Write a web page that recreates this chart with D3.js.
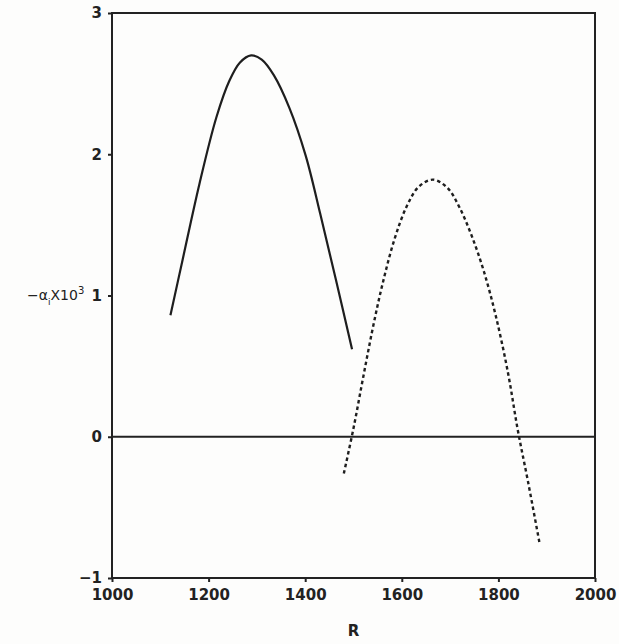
<!DOCTYPE html>
<html>
<head>
<meta charset="utf-8">
<script src="https://cdn.jsdelivr.net/npm/d3@7"></script>
<style>
  body { margin: 0; background: #fdfdfc; }
  text { font-family: "DejaVu Sans", sans-serif; fill: #222; }
</style>
</head>
<body>
<div id="chart"></div>
<script>
// values
var solidR = [1121, 1146, 1181, 1216, 1243, 1265, 1288, 1310, 1335, 1367, 1401, 1431, 1463, 1497];
var solidA = [0.86, 1.25, 1.79, 2.26, 2.52, 2.65, 2.70, 2.67, 2.56, 2.33, 1.99, 1.58, 1.12, 0.62];

var dashR = [1480, 1500, 1520, 1540, 1560, 1585, 1610, 1635, 1665, 1695, 1720, 1745, 1770, 1795, 1820, 1840, 1862, 1885];
var dashA = [-0.26, 0.06, 0.42, 0.77, 1.08, 1.40, 1.63, 1.77, 1.82, 1.76, 1.62, 1.42, 1.17, 0.85, 0.45, 0.05, -0.33, -0.75];

var xTicks = [1000, 1200, 1400, 1600, 1800, 2000];
var yTicks = [-1, 0, 1, 2, 3];

var margin = { top: 13, right: 24, bottom: 66, left: 112 },
    width = 619 - margin.left - margin.right,
    height = 644 - margin.top - margin.bottom;

var svg = d3.select("#chart")
    .append("svg")
    .attr("width", 619)
    .attr("height", 644)
    .append("g")
    .attr("transform", "translate(" + margin.left + "," + margin.top + ")");

var x = d3.scaleLinear().domain([1000, 2000]).range([0, width]);
var y = d3.scaleLinear().domain([-1, 3]).range([height, 0]);

// frame
svg.append("rect")
    .attr("width", width)
    .attr("height", height)
    .attr("fill", "none")
    .attr("stroke", "#222")
    .attr("stroke-width", 2);

// axes
var xAxis = svg.append("g")
    .attr("transform", "translate(0," + height + ")")
    .call(d3.axisBottom(x).tickValues(xTicks).tickSize(4).tickPadding(7).tickFormat(d3.format("d")));
var yAxis = svg.append("g")
    .call(d3.axisLeft(y).tickValues(yTicks).tickSize(4).tickPadding(6).tickFormat(function (d) { return d < 0 ? "−" + (-d) : d; }));

[xAxis, yAxis].forEach(function (a) {
    a.select(".domain").remove();
    a.selectAll("line").attr("stroke", "#222").attr("stroke-width", 2);
    a.selectAll("text").style("font-size", "15px").style("font-weight", "bold").attr("fill", "#222");
});

// zero line
svg.append("line")
    .attr("x1", 0).attr("x2", width)
    .attr("y1", y(0)).attr("y2", y(0))
    .attr("stroke", "#222")
    .attr("stroke-width", 2);

var line = d3.line()
    .x(function (d) { return x(d[0]); })
    .y(function (d) { return y(d[1]); })
    .curve(d3.curveCatmullRom);

svg.append("path")
    .datum(d3.zip(solidR, solidA))
    .attr("fill", "none")
    .attr("stroke", "#1e1e1e")
    .attr("stroke-width", 2.2)
    .attr("d", line);

svg.append("path")
    .datum(d3.zip(dashR, dashA))
    .attr("fill", "none")
    .attr("stroke", "#1e1e1e")
    .attr("stroke-width", 2.4)
    .attr("stroke-dasharray", "3.5,3")
    .attr("d", line);

// axis titles
var yl = svg.append("text")
    .attr("x", -85)
    .attr("y", y(1) + 4)
    .style("font-size", "14px");
yl.append("tspan").text("−α");
yl.append("tspan").attr("dy", 5).style("font-size", "9px").text("i");
yl.append("tspan").attr("dy", -5).text("X10");
yl.append("tspan").attr("dy", -6).style("font-size", "10px").text("3");

svg.append("text")
    .attr("x", x(1500))
    .attr("y", height + 58)
    .attr("text-anchor", "middle")
    .style("font-size", "15px")
    .style("font-weight", "bold")
    .text("R");
</script>
</body>
</html>
